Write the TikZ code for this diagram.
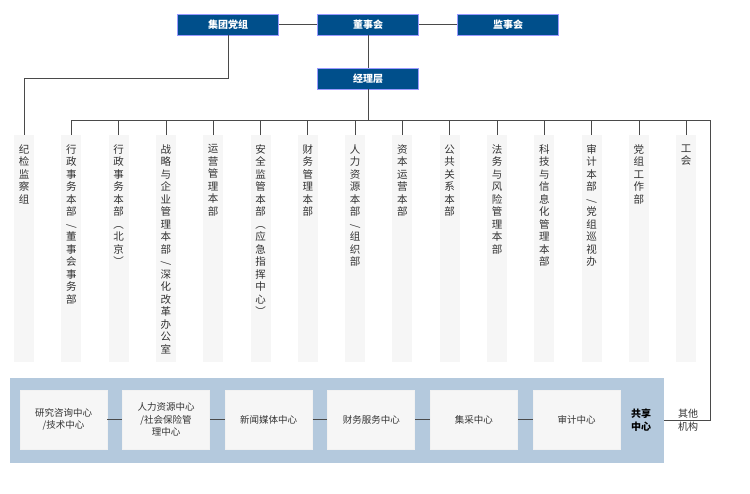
\documentclass[tikz,border=0pt]{standalone}
\usepackage{fontspec}
\setmainfont{Noto Sans CJK SC}
\usetikzlibrary{positioning}
\definecolor{hdblue}{HTML}{004F8B}
\definecolor{bandblue}{HTML}{B4C9DD}
\definecolor{colgray}{HTML}{F6F6F6}
\definecolor{linegray}{HTML}{4A4A4A}
\newcommand{\vsl}{\rotatebox{90}{/}}
\begin{document}
\begin{tikzpicture}
        [x=1pt, y=-1pt, line width=0.8pt,
         head/.style={draw=blue!40, fill=hdblue, text=white, font=\bfseries\fontsize{10}{12}\selectfont, minimum width=101pt, minimum height=21pt, inner sep=0pt},
         dept/.style={fill=colgray, minimum width=20pt, minimum height=227pt, anchor=north},
         depttext/.style={anchor=north, align=center, font=\fontsize{10.5}{12.5}\selectfont, inner sep=0pt, text=black!80},
         unit/.style={draw=white!90!gray, fill=colgray, minimum width=87pt, minimum height=59pt, align=center, inner sep=1pt, font=\fontsize{9.5}{12.5}\selectfont, text=black!80},
         link/.style={draw=linegray}]

        \useasboundingbox (0,0) rectangle (750,493);

        % top level
        \node[head] (party) at (228, 24.5) {集团党组};
        \node[head] (board) at (368, 24.5) {董事会};
        \node[head] (super) at (508, 24.5) {监事会};
        \node[head] (mgmt) at (368, 78.5) {经理层};

        \draw[link] (party) -- (board);
        \draw[link] (board) -- (super);
        \draw[link] (board) -- (mgmt);

        % departments
        \foreach \t[count=\i] in {
            纪\\检\\监\\察\\组,
            行\\政\\事\\务\\本\\部\\\vsl\\董\\事\\会\\事\\务\\部,
            行\\政\\事\\务\\本\\部\\︵\\北\\京\\︶,
            战\\略\\与\\企\\业\\管\\理\\本\\部\\\vsl\\深\\化\\改\\革\\办\\公\\室,
            运\\营\\管\\理\\本\\部,
            安\\全\\监\\管\\本\\部\\︵\\应\\急\\指\\挥\\中\\心\\︶,
            财\\务\\管\\理\\本\\部,
            人\\力\\资\\源\\本\\部\\\vsl\\组\\织\\部,
            资\\本\\运\\营\\本\\部,
            公\\共\\关\\系\\本\\部,
            法\\务\\与\\风\\险\\管\\理\\本\\部,
            科\\技\\与\\信\\息\\化\\管\\理\\本\\部,
            审\\计\\本\\部\\\vsl\\党\\组\\巡\\视\\办,
            党\\组\\工\\作\\部,
            工\\会}
        {
            \node[dept] (dept-\i) at ({24+47.3*(\i-1)}, 135) {};
            \node[depttext] (dept-\i-t) at ({24+47.3*(\i-1)}, 144) {\t};
        }

        \coordinate (bus) at (368, 120);
        \coordinate (bus-end) at (710, 120);
        \draw[link] (mgmt) -- (bus);
        \draw[link] (dept-2.north) |- (bus-end);
        \foreach \i in {3,...,15}
        \draw[link] (dept-\i.north) -- ++(0,-15);
        \coordinate (party-turn) at (228, 78);
        \draw[link] (party) -- (party-turn) -| (dept-1.north);

        % shared centres
        \node[fill=bandblue, minimum width=654pt, minimum height=85pt, inner sep=0pt] (shared) at (337, 420.5) {};
        \foreach \t[count=\i] in {研究咨询中心\\/技术中心, 人力资源中心\\/社会保险管\\理中心, 新闻媒体中心, 财务服务中心, 集采中心, 审计中心}
        \node[unit] (unit-\i) at ({63.5+102.6*(\i-1)}, 419.5) {\t};

        \foreach \i[evaluate=\i as \j using int(\i+1)] in {1,...,5}
        \draw[draw=linegray, line width=1.5pt] (unit-\i) -- (unit-\j);

        \node[font=\bfseries\fontsize{10}{12.5}\selectfont, align=center, inner sep=0pt] (shared-t) at (641, 420) {共享\\中心};
        \node[font=\fontsize{10}{12.5}\selectfont, align=center, inner sep=0pt, text=black!80] (other) at (688, 420) {其他\\机构};
        \coordinate (other-turn) at (710, 420);
        \draw[link] (shared.east |- other-turn) -- (other-turn) -- (bus-end);
\end{tikzpicture}
\end{document}
